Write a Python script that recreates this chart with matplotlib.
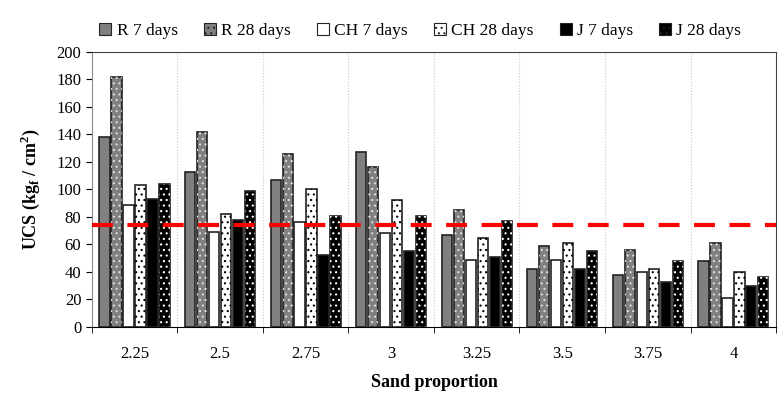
import numpy as np
import matplotlib.pyplot as plt

plt.rcParams['font.family'] = ['Liberation Serif', 'DejaVu Serif']
plt.rcParams['mathtext.fontset'] = 'custom'
plt.rcParams['mathtext.rm'] = 'Liberation Serif'
plt.rcParams['mathtext.bf'] = 'Liberation Serif:bold'
plt.rcParams['hatch.linewidth'] = 0.8

groups = ["2.25", "2.5", "2.75", "3", "3.25", "3.5", "3.75", "4"]
series = ["R 7 days", "R 28 days", "CH 7 days", "CH 28 days", "J 7 days", "J 28 days"]
r7 = [138, 113, 107, 127, 67, 42, 38, 48]
r28 = [182, 142, 126, 116, 85, 59, 56, 61]
ch7 = [89, 69, 76, 68, 49, 49, 40, 21]
ch28 = [103, 82, 100, 92, 65, 61, 42, 40]
j7 = [93, 78, 52, 55, 51, 42, 33, 30]
j28 = [104, 99, 81, 81, 77, 55, 48, 36]
limit = 74

values = [r7, r28, ch7, ch28, j7, j28]
fills = ["#808080", "#808080", "white", "white", "black", "black"]
dots = [None, "#dddddd", None, "black", None, "white"]

fig = plt.figure(figsize=(7.84, 3.93), dpi=100)
ax = fig.add_axes([0.117, 0.168, 0.873, 0.7])

x = np.arange(len(groups))
slot = 0.14
bw = 0.12
for i, (vals, fc, dc, lab) in enumerate(zip(values, fills, dots, series)):
    pos = x + (i - 2.5) * slot
    ax.bar(pos, vals, bw, color=fc, edgecolor="#222222", linewidth=1.2, zorder=3)
    if dc is not None:
        ax.bar(pos, vals, bw, color="none", edgecolor=dc, hatch="...", linewidth=0, zorder=4)
    # legend proxy
    ax.bar([0], [0], 0, color=fc, edgecolor="#222222", linewidth=0.8,
           hatch="..." if dc else None, label=lab)

ax.axhline(limit, color="red", lw=3, ls=(0, (5, 3.5)), zorder=5)

ax.set_xlim(-0.5, len(groups) - 0.5)
ax.set_ylim(0, 200)
ax.set_yticks(range(0, 201, 20))
ax.set_xticks(x)
ax.set_xticklabels(groups)
ax.set_xticks(np.arange(-0.5, len(groups)), minor=True)
ax.tick_params(axis="x", which="major", length=0, labelsize=12, pad=14)
ax.tick_params(axis="x", which="minor", length=4, direction="out")
ax.tick_params(axis="y", labelsize=12, length=4, direction="out")
for b in np.arange(0.5, len(groups) - 0.5):
    ax.axvline(b, color="#c8c8c8", lw=0.8, ls=":", zorder=1)
for s in ["top", "right"]:
    ax.spines[s].set_color("#444444")
ax.spines["left"].set_color("#888888")

ax.set_ylabel(r"UCS (kg$_{\mathbf{f}}$ / cm$^{\mathbf{2}}$)", fontsize=13,
              fontweight="bold", labelpad=10)
ax.set_xlabel("Sand proportion", fontsize=13, fontweight="bold", labelpad=8)

ax.legend(loc="lower center", bbox_to_anchor=(0.48, 1.01), ncol=6, frameon=False,
          fontsize=12.5, handlelength=0.7, handleheight=0.7, handletextpad=0.3,
          columnspacing=1.5, borderaxespad=0.2)

fig.savefig("out.png", dpi=100)
